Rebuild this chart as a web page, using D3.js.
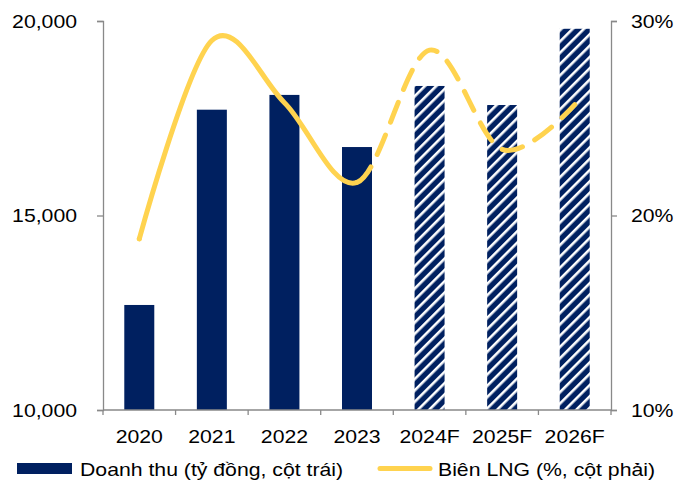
<!DOCTYPE html>
<html lang="en">
<head>
<meta charset="utf-8">
<title>Doanh thu va Bien LNG</title>
<script src="https://d3js.org/d3.v7.min.js"></script>
<style>
  body { margin: 0; background: #fff; }
  text { font-family: "Liberation Sans", Arial, sans-serif; fill: #000; font-size: 18px; }
</style>
</head>
<body>
<script>
// data
var years = ["2020", "2021", "2022", "2023", "2024F", "2025F", "2026F"];
var revenue = [12700, 17720, 18100, 16760, 18330, 17840, 19800];   // ty dong, left axis
var margin = [18.8, 29.0, 25.8, 21.7, 28.5, 23.4, 25.7];            // %, right axis
var forecast = [false, false, false, false, true, true, true];
var leftTicks = [10000, 15000, 20000];
var rightTicks = [10, 20, 30];

var W = 687, H = 482;
var m = { top: 21, right: 76, bottom: 72, left: 103 };
var navy = "#002060", yellow = "#FFD34F", axisGrey = "#898989";
var stretch = 1.18; // the source text is a bit wider than it is tall

var svg = d3.select("body").append("svg")
    .attr("width", W)
    .attr("height", H);

// text placed at (x, y) and widened a little
function label(parent, x, y, str, anchor) {
    parent.append("g")
        .attr("transform", "translate(" + x + "," + y + ") scale(" + stretch + ",1)")
        .append("text")
        .attr("text-anchor", anchor || "start")
        .text(str);
}

var defs = svg.append("defs");
var pat = defs.append("pattern")
    .attr("id", "hatch")
    .attr("patternUnits", "userSpaceOnUse")
    .attr("width", 8)
    .attr("height", 8)
    .attr("patternTransform", "rotate(45)");
pat.append("rect").attr("width", 8).attr("height", 8).attr("fill", navy);
pat.append("rect").attr("x", 0).attr("width", 2.6).attr("height", 8).attr("fill", "#fff");

var x = d3.scaleBand().domain(years).range([m.left, W - m.right]);
var yL = d3.scaleLinear().domain([10000, 20000]).range([H - m.bottom, m.top]);
var yR = d3.scaleLinear().domain([10, 30]).range([H - m.bottom, m.top]);

var barW = 30;

// bars
svg.selectAll(".bar")
    .data(years)
    .enter()
    .append("rect")
    .attr("class", "bar")
    .attr("x", function(d) { return x(d) + x.bandwidth() / 2 - barW / 2; })
    .attr("y", function(d, i) { return yL(revenue[i]); })
    .attr("width", barW)
    .attr("height", function(d, i) { return yL(10000) - yL(revenue[i]); })
    .attr("fill", function(d, i) { return forecast[i] ? "url(#hatch)" : navy; });

// axes (lines from d3, labels drawn by hand so they can be widened)
var axL = svg.append("g")
    .attr("transform", "translate(" + m.left + ",0)")
    .call(d3.axisLeft(yL).tickValues(leftTicks).tickSize(6).tickFormat(""));
var axR = svg.append("g")
    .attr("transform", "translate(" + (W - m.right) + ",0)")
    .call(d3.axisRight(yR).tickValues(rightTicks).tickSize(6).tickFormat(""));
[axL, axR].forEach(function(g) {
    g.select(".domain").attr("stroke", axisGrey).attr("stroke-width", 1.3);
    g.selectAll(".tick line").attr("stroke", axisGrey).attr("stroke-width", 1.3);
});
leftTicks.forEach(function(v) {
    label(svg, m.left - 26, yL(v) + 6.5, d3.format(",")(v), "end");
});
rightTicks.forEach(function(v) {
    label(svg, W - m.right + 20, yR(v) + 6.5, v + "%", "start");
});

var xBottom = H - m.bottom;
var axX = svg.append("g").attr("transform", "translate(0," + xBottom + ")");
axX.append("line")
    .attr("x1", m.left).attr("x2", W - m.right)
    .attr("stroke", axisGrey).attr("stroke-width", 1.3);
var bounds = years.map(function(d) { return x(d); }).concat([x.range()[1]]);
axX.selectAll(".xt")
    .data(bounds)
    .enter()
    .append("line")
    .attr("x1", function(d) { return d; })
    .attr("x2", function(d) { return d; })
    .attr("y1", 0).attr("y2", 5)
    .attr("stroke", axisGrey).attr("stroke-width", 1.3);
years.forEach(function(d) {
    label(axX, x(d) + x.bandwidth() / 2, 33, d, "middle");
});

// margin line: smoothed, solid for actuals, dashed for forecasts
var pts = years.map(function(d, i) { return [x(d) + x.bandwidth() / 2, yR(margin[i])]; });
var line = d3.line().curve(d3.curveCardinal.tension(0));
var splitX = pts[3][0];

defs.append("clipPath").attr("id", "clipSolid")
    .append("rect").attr("x", 0).attr("y", 0).attr("width", splitX).attr("height", H);

svg.append("path")
    .attr("d", line(pts))
    .attr("fill", "none")
    .attr("stroke", yellow)
    .attr("stroke-width", 5)
    .attr("stroke-linecap", "round")
    .attr("clip-path", "url(#clipSolid)");

// dashed part drawn only from the 2023 point on
var dashPath = svg.append("path")
    .attr("d", line(pts))
    .attr("fill", "none")
    .attr("stroke", yellow)
    .attr("stroke-width", 5)
    .attr("stroke-linecap", "round");
var node = dashPath.node();
var total = node.getTotalLength();
var lo = 0, hi = total;
for (var k = 0; k < 40; k++) {
    var mid = (lo + hi) / 2;
    if (node.getPointAtLength(mid).x < splitX) lo = mid; else hi = mid;
}
var dashes = [0, lo];
for (var s = 0; s < total; s += 35) dashes.push(21, 14);
dashPath.attr("stroke-dasharray", dashes.join(","));

// legend
var lg = svg.append("g");
lg.append("rect")
    .attr("x", 17).attr("y", 463).attr("width", 55).attr("height", 11)
    .attr("fill", navy);
label(lg, 80, 476, "Doanh thu (tỷ đồng, cột trái)", "start");
lg.append("line")
    .attr("x1", 380).attr("x2", 430).attr("y1", 468.5).attr("y2", 468.5)
    .attr("stroke", yellow).attr("stroke-width", 5).attr("stroke-linecap", "round");
label(lg, 438, 476, "Biên LNG (%, cột phải)", "start");
</script>
</body>
</html>
